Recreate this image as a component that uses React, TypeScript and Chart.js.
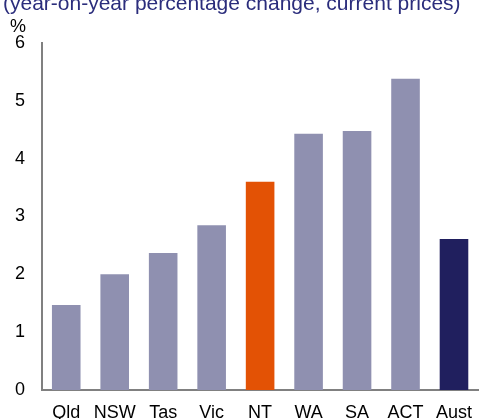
import React, { useEffect, useRef } from "react";
import { Chart, registerables } from "chart.js";

Chart.register(...registerables);

const titleText = "(year-on-year percentage change, current prices)";
const unitLabel = "%";
const categories = ["Qld", "NSW", "Tas", "Vic", "NT", "WA", "SA", "ACT", "Aust"];
const growth = [1.47, 2.0, 2.37, 2.85, 3.6, 4.43, 4.48, 5.38, 2.61];
const barColors = ["#8F90B0", "#8F90B0", "#8F90B0", "#8F90B0", "#E35205", "#8F90B0", "#8F90B0", "#8F90B0", "#201F5E"];

const FONT = "'Liberation Sans', Arial, sans-serif";

const textPlugin = {
  id: "textPlugin",
  afterDraw(chart: any) {
    const ctx = chart.ctx;
    ctx.save();
    ctx.fillStyle = "#2B2D7C";
    ctx.font = `21px ${FONT}`;
    ctx.textAlign = "left";
    ctx.textBaseline = "alphabetic";
    ctx.fillText(titleText, 3, 9.5);
    ctx.fillStyle = "#000000";
    ctx.font = `18px ${FONT}`;
    ctx.fillText(unitLabel, 10, 32);
    ctx.restore();
  },
};

export default function App() {
  const canvasRef = useRef<HTMLCanvasElement | null>(null);

  useEffect(() => {
    if (!canvasRef.current) return;
    const chart = new Chart(canvasRef.current, {
      type: "bar",
      data: {
        labels: categories,
        datasets: [
          {
            data: growth,
            backgroundColor: barColors,
            borderWidth: 0,
            barPercentage: 0.59,
            categoryPercentage: 1,
          },
        ],
      },
      options: {
        animation: false,
        responsive: false,
        maintainAspectRatio: false,
        devicePixelRatio: 1,
        layout: { padding: { top: 43, left: 0, right: 0, bottom: 0 } },
        plugins: {
          legend: { display: false },
          title: { display: false },
          tooltip: { enabled: false },
        },
        scales: {
          x: {
            grid: { display: false, drawTicks: false },
            border: { display: true, color: "#808080", width: 2 },
            ticks: {
              color: "#000000",
              font: { family: FONT, size: 18 },
              padding: 12,
              maxRotation: 0,
              autoSkip: false,
            },
            afterFit: (scale: any) => {
              scale.height = 29;
            },
          },
          y: {
            min: 0,
            max: 6,
            grid: { display: false, drawTicks: false },
            border: { display: true, color: "#808080", width: 2 },
            ticks: {
              stepSize: 1,
              color: "#000000",
              font: { family: FONT, size: 18 },
              padding: 17,
            },
            afterFit: (scale: any) => {
              scale.width = 42;
            },
          },
        },
      },
      plugins: [textPlugin],
    });
    return () => chart.destroy();
  }, []);

  return (
    <div
      style={{
        position: "fixed",
        left: 0,
        top: 0,
        width: 479,
        height: 419,
        overflow: "hidden",
        background: "#ffffff",
      }}
    >
      <canvas ref={canvasRef} width={484} height={419} style={{ display: "block", width: 484, height: 419 }} />
    </div>
  );
}
